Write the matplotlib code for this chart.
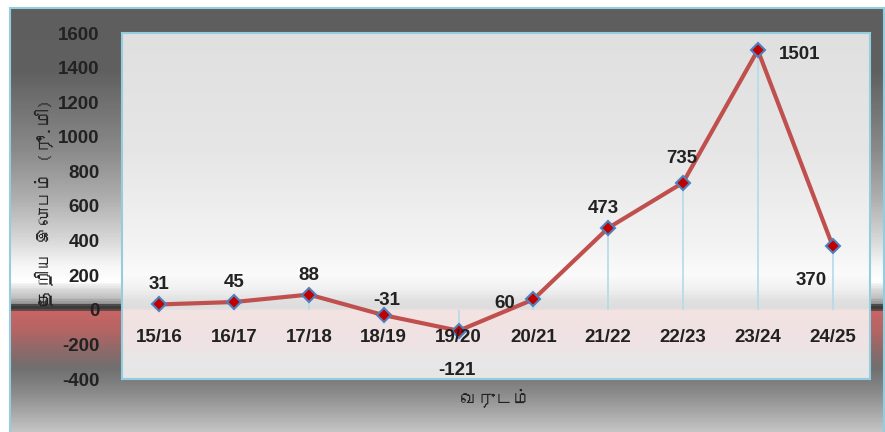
import matplotlib
matplotlib.use("Agg")
import matplotlib.pyplot as plt
import numpy as np
from matplotlib import font_manager
from matplotlib.ft2font import FT2Font
from matplotlib.colors import LinearSegmentedColormap
from matplotlib.patches import Rectangle

# data
years = ["15/16", "16/17", "17/18", "18/19", "19/20", "20/21", "21/22", "22/23", "23/24", "24/25"]
profit = [31, 45, 88, -31, -121, 60, 473, 735, 1501, 370]
y_ticks = [-400, -200, 0, 200, 400, 600, 800, 1000, 1200, 1400, 1600]
y_label = "தேறிய இலாபம் (ரூ.மி)"
x_label = "வருடம்"

# find a font that has Tamil glyphs, if any is installed
tamil_font = None
for f in font_manager.fontManager.ttflist:
    try:
        if 0x0BA4 in FT2Font(f.fname).get_charmap():
            tamil_font = f.name
            break
    except Exception:
        pass
label_family = [tamil_font, "DejaVu Sans"] if tamil_font else ["DejaVu Sans"]

plt.rcParams["font.family"] = ["Liberation Sans", "DejaVu Sans"]

W, H = 885, 432
fig = plt.figure(figsize=(W / 100, H / 100), dpi=100)
fig.patch.set_facecolor("white")


def px_cmap(stops, y0, y1):
    pos = [(y - y0) / (y1 - y0) for y, c in stops]
    return LinearSegmentedColormap.from_list("g", list(zip(pos, [c for y, c in stops])))


# outer gradient background (pixel rows from top)
outer_stops = [(8, "#5e5e5e"), (70, "#606060"), (150, "#8a8a8a"), (200, "#b0b0b0"),
               (240, "#d8d8d8"), (265, "#f6f6f6"), (282, "#ffffff"), (290, "#dadada"),
               (298, "#c0c0c0"), (304, "#909090"), (306, "#3c3c3c"), (310, "#3c3c3c"),
               (312, "#c86464"), (332, "#b46464"), (352, "#8c6a6a"), (370, "#707070"),
               (395, "#8c8c8c"), (432, "#c4c4c4")]
bg = fig.add_axes([10 / W, 0, 874 / W, 424 / H])
bg.imshow(np.linspace(0, 1, 424).reshape(-1, 1), cmap=px_cmap(outer_stops, 8, 432),
          aspect="auto", extent=[0, 1, 0, 1], origin="upper")
bg.set_axis_off()
fig.add_artist(Rectangle((10 / W, -0.01), 874 / W, 424 / H + 0.01, transform=fig.transFigure,
                         fill=False, edgecolor="#92cde0", linewidth=1.5))

# plot area
left, top, right, bottom = 122, 33, 870, 379
ax = fig.add_axes([left / W, 1 - bottom / H, (right - left) / W, (bottom - top) / H])
inner_stops = [(33, "#e0e0e0"), (150, "#e6e6e6"), (250, "#f4f4f4"), (275, "#fbfbfb"),
               (290, "#f0f0f0"), (300, "#e2e2e2"), (309, "#dcdcdc"), (311, "#f3e3e3"),
               (345, "#efe2e2"), (360, "#e8e8e8"), (379, "#e6e6e6")]
ax.imshow(np.linspace(0, 1, 346).reshape(-1, 1), cmap=px_cmap(inner_stops, 33, 379),
          aspect="auto", extent=[0, 1, 0, 1], origin="upper", transform=ax.transAxes, zorder=0)

x = np.arange(len(years))
ax.vlines(x, 0, profit, color="#b3dbe8", linewidth=1.2, zorder=1)
ax.plot(x, profit, color="#c0504d", linewidth=3, zorder=2,
        marker="D", markersize=7, markerfacecolor="#c00000",
        markeredgecolor="#4f81bd", markeredgewidth=1.5)

ax.set_xlim(-0.5, len(years) - 0.5)
ax.set_ylim(-400, 1600)
ax.set_xticks([])
ax.set_yticks(y_ticks)
ax.set_yticklabels([str(v) for v in y_ticks], fontsize=13.5, fontweight="bold", color="#222222")
ax.tick_params(axis="y", length=0, pad=16)
for s in ax.spines.values():
    s.set_color("#92cde0")
    s.set_linewidth(1.5)

# category labels sit inside the plot, just below zero
for xi, lab in zip(x, years):
    ax.text(xi, -160, lab, ha="center", va="center", fontsize=13.5,
            fontweight="bold", color="#222222")

# data labels (offsets in pixels)
offsets = [(0, 20), (0, 20), (0, 19), (3, 15), (-2, -40), (-29, -4),
           (-5, 19), (-1, 24), (42, -4), (-21, -35)]
for xi, v, (dx, dy) in zip(x, profit, offsets):
    ax.annotate(str(v), (xi, v), xytext=(dx, dy), textcoords="offset pixels",
                ha="center", va="center", fontsize=13.5, fontweight="bold", color="#222222")

fig.text(45 / W, 1 - 203 / H, y_label, rotation=90, ha="center", va="center",
         fontsize=13, color="#222222", family=label_family)
fig.text(496 / W, 1 - 398 / H, x_label, ha="center", va="center",
         fontsize=13, color="#222222", family=label_family)

fig.savefig("out.png", dpi=100)
